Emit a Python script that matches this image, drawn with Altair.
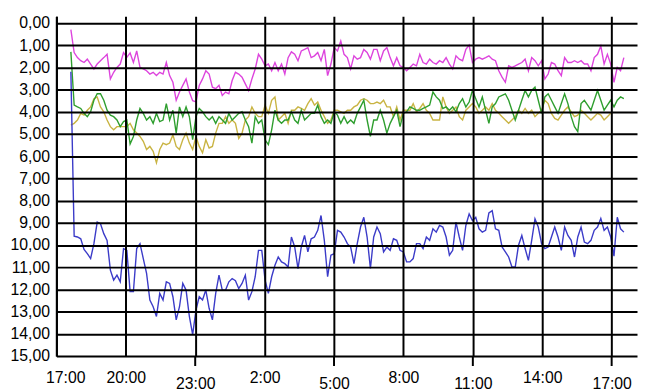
import altair as alt
import pandas as pd

# time axis: hours after 17:00, samples every ~8.5 minutes
H0 = 0.626
DT = 0.14227
TICK_HOURS = [0, 3, 6, 9, 12, 15, 18, 21, 24]
Y_TICKS = list(range(16))

magenta = [0.3,
    1.33, 1.56, 1.70, 1.78, 1.63, 1.85, 2.07, 1.85, 1.70, 1.56, 1.41, 2.52, 2.22, 2.0, 1.85, 1.33, 1.55, 1.35,
    1.78, 1.26, 2.0, 2.07, 2.15, 2.30, 2.22, 2.37, 2.22, 2.30, 1.78, 2.37, 2.67, 3.48, 3.11, 2.81, 2.52, 3.11,
    3.5, 3.55, 2.81, 2.52, 2.15, 2.30, 2.89, 2.96, 2.81, 3.26, 3.11, 3.19, 2.59, 2.22, 2.30, 2.44, 2.74,
    3.04, 2.52, 2.07, 1.41, 1.63, 1.93, 1.85, 2.15, 1.78, 2.15, 1.85, 2.30, 1.56, 1.3, 1.41, 1.70, 1.26, 1.19,
    1.11, 1.56, 1.48, 1.33, 1.70, 1.19, 2.37, 1.85, 1.11, 1.26, 0.81, 1.41, 1.56, 2.07, 1.48, 1.63, 1.56, 1.19,
    1.33, 1.63, 1.19, 1.19, 1.70, 1.26, 1.11, 1.56, 1.93, 1.56, 1.93, 2.0, 2.15, 2.0, 1.85, 1.93, 1.41, 1.78,
    1.85, 1.63, 1.78, 1.85, 1.70,
    1.78, 1.56, 1.85, 2.07, 1.48, 1.63, 1.70, 1.19, 1.0, 1.78, 1.63, 1.56, 1.63, 1.56, 1.48, 1.63, 1.70, 2.15,
    2.44, 2.67, 1.93, 2.0, 1.93, 1.85, 1.78, 1.63, 2.15, 1.56, 1.70, 1.93, 1.70, 2.52, 2.30, 1.78, 1.85, 2.15,
    2.37, 1.56, 1.78, 1.78, 1.70, 1.78, 1.70, 1.85, 1.85, 2.15, 1.56, 1.41, 1.04, 1.85, 1.41, 1.85, 2.67, 2.0,
    2.15, 1.56]

yellow = [4.6,
    4.52, 4.37, 4.07, 4.15, 3.93, 3.78, 3.41, 3.33, 3.78, 4.0, 4.37, 4.67, 4.81, 4.67, 4.67, 4.67, 4.67, 4.52,
    4.81, 4.96, 5.11, 5.33, 5.70, 5.56, 5.78, 6.30, 5.70, 5.41, 5.48, 5.41, 5.04, 5.56, 5.70, 5.26, 4.96, 5.41,
    5.70, 5.11, 5.56, 5.85, 5.26, 5.63, 5.56, 4.96, 4.52, 4.52, 4.22, 4.52, 4.37, 4.52, 5.2, 4.96, 4.37,
    4.22, 3.78, 4.07, 4.22, 4.22, 3.70, 4.07, 3.48, 3.33, 4.37, 4.22, 4.07, 4.52, 3.93, 3.93, 3.78, 3.85, 3.93,
    3.63, 3.41, 3.70, 3.56, 3.93, 4.22, 4.52, 4.37, 3.93, 3.93, 4.0, 4.07, 3.93, 3.93, 3.78, 3.70, 3.48, 3.41,
    3.48, 3.63, 3.63, 3.56, 3.63, 3.48, 3.78, 3.78, 4.22, 3.78, 4.37, 3.93, 3.93, 3.93, 3.63, 4.0, 3.85, 3.63,
    3.93, 4.07, 4.37, 4.37, 4.37,
    3.33, 3.78, 4.07, 3.93, 3.78, 4.22, 4.37, 3.93, 3.78, 3.63, 3.78, 4.07, 3.93, 3.78, 3.93, 3.63, 3.93, 4.07,
    4.22, 4.37, 4.52, 4.37, 4.22, 3.93, 4.07, 3.85, 4.07, 3.93, 4.22, 4.07, 3.93, 3.48, 3.63, 4.07, 4.30, 4.37,
    4.15, 3.93, 3.78, 4.0, 4.22, 4.15, 3.93, 4.07, 4.22, 4.37, 4.22, 4.07, 4.15, 4.37, 4.22, 4.07]

green = [1.3,
    3.7, 3.78, 3.85, 4.07, 4.22, 4.0, 3.48, 3.19, 3.19, 3.48, 3.93, 4.15, 4.22, 4.37, 4.67, 4.44, 4.37, 5.45,
    5.11, 4.37, 3.85, 4.07, 4.37, 4.22, 4.52, 4.07, 4.44, 4.37, 3.63, 4.37, 3.93, 4.96, 3.78, 4.22, 3.78, 4.22,
    5.26, 4.22, 3.85, 4.0, 4.22, 4.37, 4.22, 4.52, 4.22, 4.37, 4.52, 4.07, 4.37, 4.22, 4.07, 4.0, 4.37,
    4.67, 5.41, 4.22, 4.52, 4.37, 5.26, 5.48, 4.81, 3.93, 4.37, 4.52, 4.37, 4.37, 4.0, 4.37, 4.52, 3.93, 4.37,
    4.22, 4.07, 4.07, 3.70, 4.22, 4.52, 4.37, 4.52, 4.0, 4.15, 4.52, 4.22, 4.52, 4.37, 4.52, 4.07, 3.78, 3.48,
    4.37, 5.11, 4.37, 4.37, 3.93, 4.37, 4.96, 4.52, 4.22, 3.93, 4.67, 4.07, 4.0, 3.78, 3.85, 3.93, 3.93, 3.85,
    3.78, 3.70, 3.11, 3.33, 3.48,
    3.85, 3.78, 3.93, 3.78, 4.0, 3.63, 3.41, 3.78, 3.56, 3.04, 3.41, 3.78, 3.33, 3.93, 4.52, 3.78, 3.63, 3.33,
    3.26, 3.19, 3.48, 3.93, 4.37, 3.93, 3.48, 3.04, 3.33, 3.04, 2.89, 3.48, 4.07, 3.33, 3.19, 3.48, 3.78, 4.07,
    3.63, 3.19, 3.63, 4.22, 4.67, 4.89, 3.63, 3.48, 3.70, 3.93, 3.48, 3.04, 3.48, 3.93, 3.70, 3.48, 3.78, 3.48,
    3.33, 3.41]

blue = [2.2,
    9.6, 9.64, 9.72, 10.2, 10.39, 10.61, 9.94, 8.97, 9.04, 9.49, 9.79, 11.13, 11.58, 11.36, 11.66, 10.16, 10.24,
    12.1, 12.1, 10.16, 9.94, 10.61, 11.28, 12.48, 12.78, 13.22, 12.18, 12.48, 11.66, 11.73, 12.33, 13.37, 12.78,
    11.73, 12.03, 13.22, 14.04, 12.93, 12.33, 12.48, 12.03, 12.85, 13.37, 12.18, 11.36, 12.03, 12.03, 11.66,
    11.51, 11.61, 11.96, 11.73, 11.36,
    12.48, 12.1, 11.43, 10.24, 10.24, 11.58, 12.18, 11.43, 10.91, 10.54, 10.76, 10.84, 10.99, 9.64, 10.09, 11.06,
    10.09, 9.57, 10.31, 9.72, 9.64, 9.34, 8.67, 9.79, 11.43, 10.46, 10.39, 9.34, 9.42, 9.64, 9.94, 10.09, 10.84,
    9.94, 9.19, 8.75, 9.64, 11.06, 9.64, 9.19, 9.49, 10.31, 10.09, 10.24, 9.72, 9.79, 10.24, 10.31, 10.76, 10.76,
    10.61, 9.94, 9.94, 10.16, 9.64, 9.79, 9.27, 9.42, 9.12,
    9.19, 9.64, 10.46, 10.24, 8.97, 9.64, 10.24, 9.12, 8.6, 8.9, 8.75, 9.27, 9.42, 9.34, 8.55, 8.45, 9.27, 9.34,
    10.09, 10.31, 10.54, 10.99, 10.99, 10.01, 9.57, 10.16, 10.69, 9.79, 8.82, 9.19, 9.94, 10.16, 10.09, 9.64,
    9.19, 9.64, 10.24, 9.19, 9.57, 9.79, 10.54, 9.64, 9.19, 9.87, 9.94, 9.79, 9.34, 9.19, 8.8, 9.34, 9.19, 9.64,
    10.5, 8.75, 9.27, 9.42]

SERIES = [("magenta", magenta, "#dd44dd"),
          ("yellow", yellow, "#c9b443"),
          ("green", green, "#2e9e2e"),
          ("blue", blue, "#3b3bc8")]

FONT = "Liberation Sans"

x_scale = alt.Scale(domain=[0, 25.096], nice=False, zero=False)
y_scale = alt.Scale(domain=[-0.3, 15], reverse=True, nice=False, zero=False)

x_axis = alt.Axis(
    values=TICK_HOURS, title=None, grid=True, gridColor="black", gridWidth=2, gridOpacity=1,
    domain=False, ticks=False, labelFlush=False, labelOverlap=False,
    labelExpr="((17 + datum.value) % 24) + ':00'",
    labelFont=FONT, labelFontSize=16, labelColor="black",
    labelPadding={"condition": {"test": "datum.value % 6 == 0 && datum.value > 0", "value": 20}, "value": 14},
    labelOffset={"condition": {"test": "datum.value == 0", "value": 9}, "value": 0},
    zindex=1,
)
y_axis = alt.Axis(
    values=Y_TICKS, tickCount=16, title=None, grid=True, gridColor="black", gridWidth=2, gridOpacity=1,
    domain=True, domainColor="black", domainWidth=2, ticks=False,
    labelOverlap=False, labelFlush=False,
    labelExpr="replace(format(datum.value, '.2f'), '.', ',')",
    labelFont=FONT, labelFontSize=16, labelColor="black", labelPadding=7,
    zindex=1,
)

layers = []
for name, vals, col in SERIES:
    df = pd.DataFrame({"h": [H0 + DT * i for i in range(len(vals))], "v": vals})
    layers.append(
        alt.Chart(df).mark_line(color=col, strokeWidth=1.4, interpolate="linear").encode(
            x=alt.X("h:Q", scale=x_scale, axis=x_axis),
            y=alt.Y("v:Q", scale=y_scale, axis=y_axis),
        )
    )

tick_df = pd.DataFrame({"h": [6, 12, 18, 24], "top": [15, 15, 15, 15], "bot": [15.45, 15.45, 15.45, 15.45]})
ticks = alt.Chart(tick_df).mark_rule(color="black", strokeWidth=2, clip=False).encode(
    x=alt.X("h:Q", scale=x_scale, axis=x_axis),
    y=alt.Y("top:Q", scale=y_scale, axis=y_axis),
    y2="bot:Q",
)

chart = alt.layer(*layers, ticks).properties(
    width=588, height=344,
    autosize=alt.AutoSizeParams(type="none"),
    padding={"left": 49, "top": 6, "right": 1, "bottom": 33},
).configure_view(stroke=None)

chart.save("out.html", embed_options={"renderer": "svg", "actions": False})
